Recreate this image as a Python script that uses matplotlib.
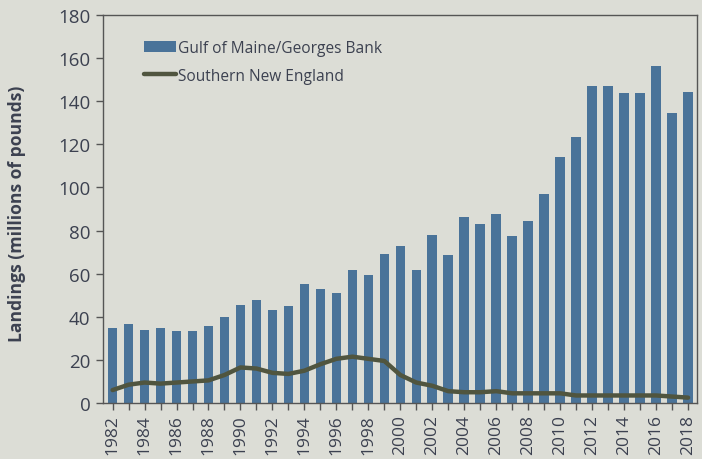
import numpy as np
import matplotlib
matplotlib.use("Agg")
import matplotlib.pyplot as plt

# landings data (millions of pounds)
years = list(range(1982, 2019))
gulf_maine = [35, 36.5, 34, 35, 33.5, 33.5, 35.5, 40, 45.5, 48,
              43, 45, 55, 53, 51, 61.5, 59.5, 69, 73, 61.5,
              78, 68.5, 86.5, 83, 87.5, 77.5, 84.5, 97, 114, 123.5,
              147, 147, 144, 144, 156.5, 134.5, 144.5]
southern_ne = [6, 8.5, 9.5, 9, 9.5, 10, 10.5, 13, 16.5, 16,
               14, 13.5, 15, 18, 20.5, 21.5, 20.5, 19.5, 13, 9.5,
               8, 5.5, 5, 5, 5.5, 4.5, 4.5, 4.5, 4.5, 3.5,
               3.5, 3.5, 3.5, 3.5, 3.5, 3, 2.5]
y_ticks = list(range(0, 181, 20))

bg = '#dcddd6'
text_col = '#3c4150'
plt.rcParams['font.family'] = ['Open Sans', 'DejaVu Sans']

fig = plt.figure(figsize=(7.02, 4.6), dpi=100, facecolor=bg)
ax = fig.add_axes([0.1467, 0.1217, 0.8462, 0.8435], facecolor=bg)

bars = ax.bar(years, gulf_maine, width=0.6, color='#4a7399', zorder=2)
line, = ax.plot(years, southern_ne, color='#50553f', linewidth=3.2,
                solid_capstyle='round', zorder=3)

ax.set_xlim(1982 - 0.6, 2018 + 0.56)
ax.set_ylim(0, 180)
ax.set_yticks(y_ticks)
ax.set_xticks(years)
ax.set_xticklabels([str(y) if y % 2 == 0 else '' for y in years], rotation=90)
ax.tick_params(axis='both', direction='out', length=5, width=1, colors='#555555',
               labelcolor=text_col)
ax.tick_params(axis='y', labelsize=13.5, pad=4)
ax.tick_params(axis='x', labelsize=12.5, pad=3)
for s in ax.spines.values():
    s.set_color('#555555')
    s.set_linewidth(1)

ax.set_ylabel('Landings (millions of pounds)', fontsize=12.6, fontweight='bold',
              color=text_col)
ax.yaxis.set_label_coords(-0.13, 0.49)

leg = ax.legend([bars, line], ['Gulf of Maine/Georges Bank', 'Southern New England'],
                loc='upper left', bbox_to_anchor=(0.045, 0.972), frameon=False,
                fontsize=11.2, handlelength=2.1, handleheight=0.8,
                handletextpad=0.1, labelspacing=0.75)
for t in leg.get_texts():
    t.set_color(text_col)

fig.savefig('out.png', dpi=100, facecolor=bg)
